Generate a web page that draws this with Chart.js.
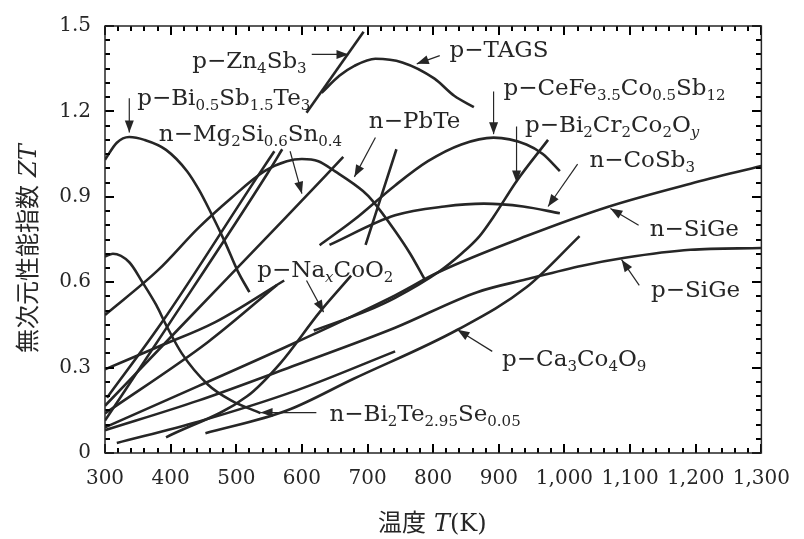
<!DOCTYPE html>
<html>
<head>
<meta charset="utf-8">
<script src="https://cdn.jsdelivr.net/npm/chart.js@4.4.1/dist/chart.umd.min.js"></script>
<style>
  html, body { margin: 0; padding: 0; background: #fff; }
  #wrap { width: 804px; height: 539px; }
</style>
</head>
<body>
<div id="wrap"><canvas id="ztChart" width="804" height="539"></canvas></div>
<script>
// [T (K), ZT]
const pBiSbTe = [[300,1.03],[318,1.09],[337,1.11],[360,1.10],[393,1.065],[425,0.99],[443,0.925],[460,0.85],[483,0.74],[502,0.64],[520,0.565]];
const nBiTeSe = [[300,0.69],[312,0.70],[337,0.67],[357,0.60],[378,0.52],[393,0.45],[417,0.35],[457,0.24],[492,0.185],[537,0.14]];
const pZnSb = [[607,1.195],[694,1.48]];
const pTAGS = [[630,1.265],[657,1.325],[680,1.36],[712,1.385],[753,1.372],[802,1.315],[832,1.255],[862,1.215]];
const nPbTe = [[300,0.485],[382,0.645],[442,0.79],[492,0.895],[543,0.99],[577,1.025],[600,1.033],[625,1.025],[650,0.99],[693,0.92],[708,0.885],[742,0.78],[765,0.70],[787,0.61]];
const nMgSiSn = [[300,0.166],[408,0.426],[577,0.831],[663,1.04]];
const lineF1 = [[303,0.194],[387,0.46],[532,0.97],[558,1.06]];
const lineF2 = [[300,0.114],[393,0.437],[547,0.98],[570,1.067]];
const lineS2 = [[300,0.294],[382,0.374],[468,0.46],[573,0.606]];
const lineF4 = [[300,0.139],[457,0.39],[562,0.59]];
const nSiGe = [[300,0.09],[442,0.235],[592,0.39],[742,0.554],[807,0.634],[942,0.762],[1068,0.866],[1192,0.946],[1300,1.008]];
const pSiGe = [[300,0.08],[442,0.184],[592,0.31],[742,0.44],[867,0.565],[942,0.61],[1027,0.658],[1092,0.686],[1192,0.714],[1300,0.72]];
const pCeFeCoSb = [[627,0.73],[680,0.82],[742,0.94],[792,1.025],[843,1.084],[892,1.108],[942,1.084],[967,1.05],[993,0.99]];
const lineSteep = [[697,0.731],[744,1.067]];
const nCoSb3 = [[642,0.731],[742,0.835],[817,0.866],[877,0.876],[937,0.866],[993,0.842]];
const pBiCrCoO = [[618,0.43],[700,0.50],[742,0.545],[807,0.634],[843,0.70],[870,0.76],[892,0.83],[927,0.955],[975,1.10]];
const pNaCoO2 = [[393,0.055],[517,0.20],[567,0.315],[627,0.495],[675,0.623]];
const pCaCoO = [[453,0.069],[577,0.149],[678,0.26],[837,0.433],[942,0.582],[1023,0.762]];
const lineLow = [[318,0.035],[442,0.11],[592,0.22],[742,0.357]];

const xTicks = [300,400,500,600,700,800,900,1000,1100,1200,1300];
const yTicks = [0,0.3,0.6,0.9,1.2,1.5];

const curves = [pBiSbTe,nBiTeSe,pZnSb,pTAGS,nPbTe,nMgSiSn,lineF1,lineF2,lineS2,lineF4,
  nSiGe,pSiGe,pCeFeCoSb,lineSteep,nCoSb3,pBiCrCoO,pNaCoO2,pCaCoO,lineLow];

// labels: [T, ZT] of text baseline start, pieces [text, 1=sub 2=italic sub], arrow from -> to
const labels = [
  {at:[433,1.354], parts:[['p−Zn'],['4',1],['Sb'],['3',1]], arrow:[[615,1.40],[671,1.40]]},
  {at:[825,1.39], parts:[['p−TAGS']], arrow:[[810,1.396],[775,1.367]]},
  {at:[349,1.223], parts:[['p−Bi'],['0.5',1],['Sb'],['1.5',1],['Te'],['3',1]], arrow:[[337,1.246],[337,1.126]]},
  {at:[382,1.095], parts:[['n−Mg'],['2',1],['Si'],['0.6',1],['Sn'],['0.4',1]], arrow:[[582,1.06],[600,0.911]]},
  {at:[702,1.143], parts:[['n−PbTe']], arrow:[[712,1.108],[680,0.97]]},
  {at:[907,1.257], parts:[['p−CeFe'],['3.5',1],['Co'],['0.5',1],['Sb'],['12',1]], arrow:[[892,1.27],[892,1.12]]},
  {at:[940,1.126], parts:[['p−Bi'],['2',1],['Cr'],['2',1],['Co'],['2',1],['O'],['y',2]], arrow:[[927,1.147],[927,0.95]]},
  {at:[1038,1.005], parts:[['n−CoSb'],['3',1]], arrow:[[1020,1.015],[975,0.866]]},
  {at:[1130,0.762], parts:[['n−SiGe']], arrow:[[1113,0.80],[1070,0.859]]},
  {at:[1132,0.547], parts:[['p−SiGe']], arrow:[[1114,0.589],[1087,0.679]]},
  {at:[532,0.617], parts:[['p−Na'],['x',2],['CoO'],['2',1]], arrow:[[607,0.606],[633,0.495]]},
  {at:[905,0.305], parts:[['p−Ca'],['3',1],['Co'],['4',1],['O'],['9',1]], arrow:[[890,0.357],[837,0.433]]},
  {at:[642,0.114], parts:[['n−Bi'],['2',1],['Te'],['2.95',1],['Se'],['0.05',1]], arrow:[[622,0.142],[537,0.142]]}
];

const ink = '#262626';
const datasets = curves.map(function (c) {
  return {
    data: c.map(function (p) { return {x: p[0], y: p[1]}; }),
    showLine: true,
    borderColor: ink,
    borderWidth: 2.6,
    pointRadius: 0,
    cubicInterpolationMode: 'monotone',
    fill: false
  };
});

function arrowHead(ctx, x1, y1, x2, y2) {
  const a = Math.atan2(y2 - y1, x2 - x1);
  const L = 12, W = 4.5;
  ctx.beginPath();
  ctx.moveTo(x2, y2);
  ctx.lineTo(x2 - L * Math.cos(a) + W * Math.sin(a), y2 - L * Math.sin(a) - W * Math.cos(a));
  ctx.lineTo(x2 - L * Math.cos(a) - W * Math.sin(a), y2 - L * Math.sin(a) + W * Math.cos(a));
  ctx.closePath();
  ctx.fill();
}

// inward tick marks on all four sides of the frame
const frameTicks = {
  id: 'frameTicks',
  afterDatasetsDraw: function (chart) {
    const ctx = chart.ctx;
    const a = chart.chartArea;
    ctx.save();
    ctx.fillStyle = '#000';
    for (let t = 300; t <= 1300; t += 20) {
      const px = Math.round(chart.scales.x.getPixelForValue(t));
      const len = (t % 100 === 0) ? 9 : 5;
      ctx.fillRect(px - 1, Math.round(a.bottom) - len, 2, len);
      ctx.fillRect(px - 1, Math.round(a.top), 2, len);
    }
    for (let k = 0; k <= 30; k++) {
      const py = Math.round(chart.scales.y.getPixelForValue(k * 0.05));
      const len = (k % 6 === 0) ? 9 : 5;
      ctx.fillRect(Math.round(a.left), py - 1, len, 2);
      ctx.fillRect(Math.round(a.right) - len, py - 1, len, 2);
    }
    ctx.restore();
  }
};

const decor = {
  id: 'decor',
  afterDraw: function (chart) {
    const ctx = chart.ctx;
    const xs = chart.scales.x, ys = chart.scales.y;
    const a = chart.chartArea;
    ctx.save();
    ctx.strokeStyle = ink;
    ctx.fillStyle = ink;
    ctx.lineWidth = 1.5;
    ctx.strokeRect(a.left, a.top, a.right - a.left, a.bottom - a.top);
    // labels with subscripts and arrows
    ctx.textBaseline = 'alphabetic';
    labels.forEach(function (lb) {
      let x = xs.getPixelForValue(lb.at[0]);
      const y = ys.getPixelForValue(lb.at[1]);
      lb.parts.forEach(function (p) {
        if (p[1] === 1) {
          ctx.font = '15px "DejaVu Serif"';
          ctx.fillText(p[0], x, y + 5);
        } else if (p[1] === 2) {
          ctx.font = 'italic 15px "DejaVu Serif"';
          ctx.fillText(p[0], x, y + 5);
        } else {
          ctx.font = '23px "DejaVu Serif"';
          ctx.fillText(p[0], x, y);
        }
        x += ctx.measureText(p[0]).width;
      });
      const f = lb.arrow[0], t = lb.arrow[1];
      const x1 = xs.getPixelForValue(f[0]), y1 = ys.getPixelForValue(f[1]);
      const x2 = xs.getPixelForValue(t[0]), y2 = ys.getPixelForValue(t[1]);
      ctx.lineWidth = 1.2;
      ctx.beginPath(); ctx.moveTo(x1, y1); ctx.lineTo(x2, y2); ctx.stroke();
      arrowHead(ctx, x1, y1, x2, y2);
    });
    // axis titles
    ctx.font = '24px "Noto Sans CJK JP"';
    let tx = 378;
    const ty = 531;
    ctx.fillText('温度', tx, ty);
    tx += ctx.measureText('温度').width + 8;
    ctx.font = 'italic 24px "DejaVu Serif"';
    ctx.fillText('T', tx, ty);
    tx += ctx.measureText('T').width;
    ctx.font = '24px "DejaVu Serif"';
    ctx.fillText('(K)', tx, ty);

    ctx.translate(36, 353);
    ctx.rotate(-Math.PI / 2);
    ctx.font = '24px "Noto Sans CJK JP"';
    ctx.fillText('無次元性能指数', 0, 0);
    const w = ctx.measureText('無次元性能指数').width + 8;
    ctx.font = 'italic 24px "DejaVu Serif"';
    ctx.fillText('ZT', w, 0);
    ctx.restore();
  }
};

new Chart(document.getElementById('ztChart'), {
  type: 'scatter',
  data: { datasets: datasets },
  options: {
    responsive: false,
    animation: false,
    layout: { padding: { left: 0, right: 32, top: 20, bottom: 0 } },
    plugins: { legend: { display: false }, tooltip: { enabled: false } },
    scales: {
      x: {
        type: 'linear', min: 300, max: 1300,
        afterBuildTicks: function (s) { s.ticks = xTicks.map(function (v) { return {value: v}; }); },
        afterFit: function (s) { s.height = 86; },
        grid: { display: false, drawTicks: false },
        border: { display: false },
        ticks: {
          color: ink, padding: 14, maxRotation: 0,
          font: { family: 'DejaVu Serif', size: 20 },
          callback: function (v) { return v.toLocaleString('en-US'); }
        }
      },
      y: {
        type: 'linear', min: 0, max: 1.5,
        afterBuildTicks: function (s) { s.ticks = yTicks.map(function (v) { return {value: v}; }); },
        afterFit: function (s) { s.width = 105; },
        grid: { display: false, drawTicks: false },
        border: { display: false },
        ticks: {
          color: ink, padding: 14,
          font: { family: 'DejaVu Serif', size: 20 },
          callback: function (v) { return v === 0 ? '0' : v.toFixed(1); }
        }
      }
    }
  },
  plugins: [frameTicks, decor]
});
</script>
</body>
</html>
